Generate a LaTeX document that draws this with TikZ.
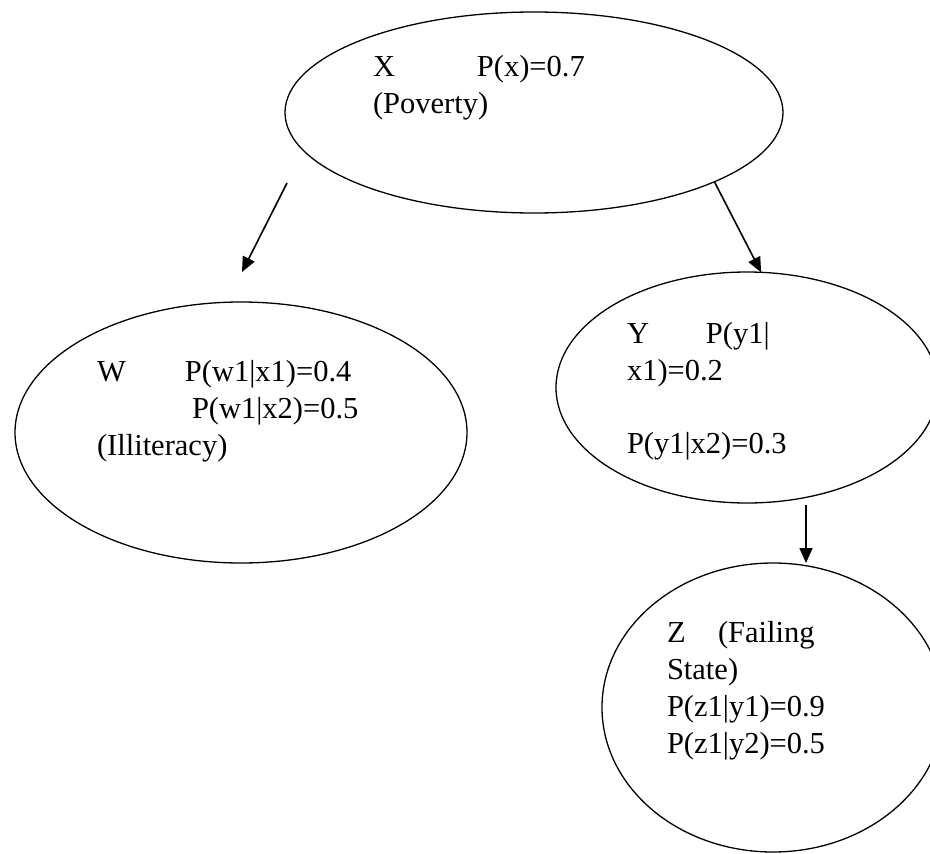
\documentclass[tikz,border=0pt]{standalone}
\usepackage{fontspec}
\setmainfont{Liberation Serif}
\usetikzlibrary{shapes.geometric,arrows.meta}
\begin{document}
\begin{tikzpicture}[x=1pt,y=-1pt,
  bubble/.style={draw, ellipse, line width=1.3pt, inner sep=0pt, outer sep=0pt},
  txt/.style={anchor=base west, inner sep=0pt, outer sep=0pt,
              font=\fontsize{30.5}{37}\selectfont},
  arr/.style={line width=1.6pt, -{Triangle[length=15pt,width=13pt]}}]
\useasboundingbox (0,0) rectangle (930,854);
\clip (0,0) rectangle (930,854);

% the four variables of the network
\node[bubble, minimum width=498pt, minimum height=201pt] (X) at (534,112.5) {};
\node[bubble, minimum width=452pt, minimum height=261pt] (W) at (241,432.5) {};
\node[bubble, minimum width=382pt, minimum height=231pt] (Y) at (747,387.5) {};
\node[bubble, minimum width=342pt, minimum height=289pt] (Z) at (773,707.5) {};

% labels and probabilities
\node[txt] (xl1) at (373,76)  {\makebox[104pt][l]{X}P(x)=0.7};
\node[txt] (xl2) at (373,113) {(Poverty)};

\node[txt] (wl1) at (97,381)  {\makebox[88pt][l]{W}P(w1|x1)=0.4};
\node[txt] (wl2) at (192,418) {P(w1|x2)=0.5};
\node[txt] (wl3) at (97,455)  {(Illiteracy)};

\node[txt] (yl1) at (627,343) {\makebox[79pt][l]{Y}P(y1|};
\node[txt] (yl2) at (627,380) {x1)=0.2};
\node[txt] (yl3) at (627,453) {P(y1|x2)=0.3};

\node[txt] (zl1) at (667,642) {\makebox[51pt][l]{Z}(Failing};
\node[txt] (zl2) at (667,679) {State)};
\node[txt] (zl3) at (667,716) {P(z1|y1)=0.9};
\node[txt] (zl4) at (667,753) {P(z1|y2)=0.5};

% dependencies
\coordinate (a1s) at (287,183);
\coordinate (a1e) at (242,272);
\draw[arr] (a1s) -- (a1e);
\draw[arr] (X.-21.3) -- (Y.83.6);
\coordinate (a3s) at (806,505);
\draw[arr] (a3s) -- (a3s |- Z.north);
\end{tikzpicture}
\end{document}
